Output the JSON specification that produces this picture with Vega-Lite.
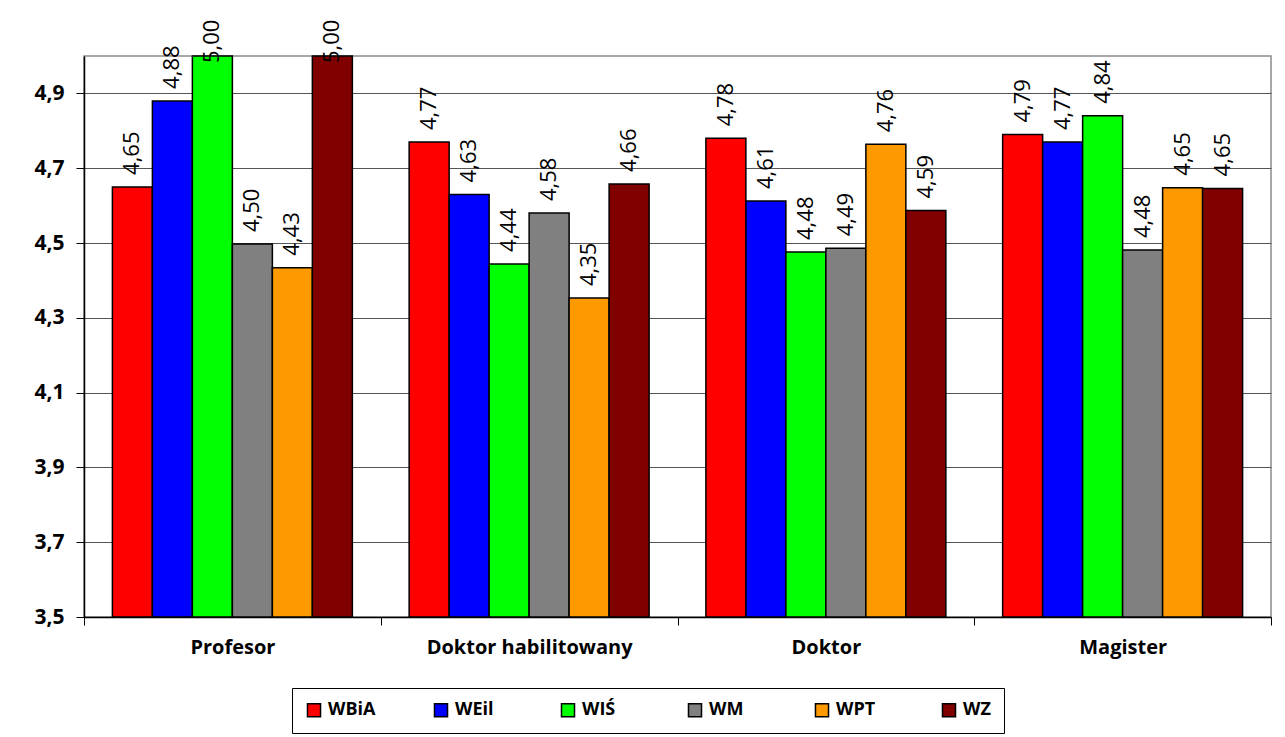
{
  "$schema": "https://vega.github.io/schema/vega-lite/v6.json",
  "width": 1187,
  "height": 561,
  "autosize": {"type": "none"},
  "padding": {"left": 84, "top": 56, "right": 14, "bottom": 120},
  "background": "white",
  "config": {
    "locale": {"number": {"decimal": ",", "thousands": " ", "grouping": [3], "currency": ["", " zł"]}},
    "view": {"stroke": "#8c8c8c", "strokeWidth": 1.5},
    "font": "Open Sans"
  },
  "data": {
    "values": [
      {"stopien": "Profesor", "wydzial": "WBiA", "ocena": 4.65},
      {"stopien": "Profesor", "wydzial": "WEil", "ocena": 4.88},
      {"stopien": "Profesor", "wydzial": "WIŚ", "ocena": 5.0},
      {"stopien": "Profesor", "wydzial": "WM", "ocena": 4.497},
      {"stopien": "Profesor", "wydzial": "WPT", "ocena": 4.434},
      {"stopien": "Profesor", "wydzial": "WZ", "ocena": 5.0},
      {"stopien": "Doktor habilitowany", "wydzial": "WBiA", "ocena": 4.77},
      {"stopien": "Doktor habilitowany", "wydzial": "WEil", "ocena": 4.63},
      {"stopien": "Doktor habilitowany", "wydzial": "WIŚ", "ocena": 4.444},
      {"stopien": "Doktor habilitowany", "wydzial": "WM", "ocena": 4.58},
      {"stopien": "Doktor habilitowany", "wydzial": "WPT", "ocena": 4.353},
      {"stopien": "Doktor habilitowany", "wydzial": "WZ", "ocena": 4.658},
      {"stopien": "Doktor", "wydzial": "WBiA", "ocena": 4.78},
      {"stopien": "Doktor", "wydzial": "WEil", "ocena": 4.612},
      {"stopien": "Doktor", "wydzial": "WIŚ", "ocena": 4.476},
      {"stopien": "Doktor", "wydzial": "WM", "ocena": 4.486},
      {"stopien": "Doktor", "wydzial": "WPT", "ocena": 4.764},
      {"stopien": "Doktor", "wydzial": "WZ", "ocena": 4.587},
      {"stopien": "Magister", "wydzial": "WBiA", "ocena": 4.79},
      {"stopien": "Magister", "wydzial": "WEil", "ocena": 4.77},
      {"stopien": "Magister", "wydzial": "WIŚ", "ocena": 4.84},
      {"stopien": "Magister", "wydzial": "WM", "ocena": 4.481},
      {"stopien": "Magister", "wydzial": "WPT", "ocena": 4.648},
      {"stopien": "Magister", "wydzial": "WZ", "ocena": 4.646}
    ]
  },
  "encoding": {
    "x": {
      "field": "stopien",
      "type": "nominal",
      "sort": ["Profesor", "Doktor habilitowany", "Doktor", "Magister"],
      "scale": {"paddingInner": 0, "paddingOuter": 0},
      "axis": {
        "title": null,
        "labelAngle": 0,
        "labelLimit": 400,
        "tickBand": "extent",
        "tickSize": 8,
        "tickColor": "black",
        "domainColor": "black",
        "domainWidth": 1.5,
        "labelFontSize": 20,
        "labelFontWeight": "bold",
        "labelColor": "black",
        "labelPadding": 12
      }
    },
    "xOffset": {
      "field": "wydzial",
      "type": "nominal",
      "sort": ["WBiA", "WEil", "WIŚ", "WM", "WPT", "WZ"],
      "scale": {"paddingInner": 0, "paddingOuter": 0.71}
    },
    "y": {
      "field": "ocena",
      "type": "quantitative",
      "scale": {"domain": [3.5, 5.0], "nice": false, "zero": false},
      "axis": {
        "title": null,
        "values": [3.5, 3.7, 3.9, 4.1, 4.3, 4.5, 4.7, 4.9],
        "format": ".1f",
        "grid": true,
        "gridColor": "#555555",
        "gridWidth": 1.2,
        "tickSize": 8,
        "tickColor": "black",
        "domainColor": "black",
        "domainWidth": 1.5,
        "labelFontSize": 21,
        "labelFontWeight": "bold",
        "labelColor": "black",
        "labelPadding": 12
      }
    }
  },
  "layer": [
    {
      "mark": {"type": "bar", "stroke": "black", "strokeWidth": 1.5},
      "encoding": {
        "y2": {"datum": 3.5},
        "color": {
          "field": "wydzial",
          "type": "nominal",
          "scale": {
            "domain": ["WBiA", "WEil", "WIŚ", "WM", "WPT", "WZ"],
            "range": ["#ff0000", "#0000ff", "#00ff00", "#808080", "#ff9900", "#800000"]
          },
          "legend": {
            "title": null,
            "orient": "none",
            "legendX": 208,
            "legendY": 632,
            "direction": "horizontal",
            "columns": 6,
            "gridAlign": "all",
            "columnPadding": 55,
            "symbolType": "square",
            "symbolSize": 170,
            "symbolStrokeColor": "black",
            "symbolStrokeWidth": 1.5,
            "labelFontSize": 18,
            "labelFontWeight": "bold",
            "labelColor": "black",
            "labelOffset": 5,
            "padding": 13,
            "fillColor": "white",
            "strokeColor": "black"
          }
        }
      }
    },
    {
      "transform": [{"filter": "datum.ocena < 4.95"}],
      "mark": {"type": "text", "angle": 270, "align": "left", "baseline": "middle", "dx": 12, "fontSize": 22, "color": "black"},
      "encoding": {
        "text": {"field": "ocena", "type": "quantitative", "format": ".2f"}
      }
    },
    {
      "transform": [{"filter": "datum.ocena >= 4.95"}],
      "mark": {"type": "text", "angle": 270, "align": "left", "baseline": "middle", "dx": -7, "fontSize": 22, "color": "black"},
      "encoding": {
        "text": {"field": "ocena", "type": "quantitative", "format": ".2f"}
      }
    }
  ]
}
